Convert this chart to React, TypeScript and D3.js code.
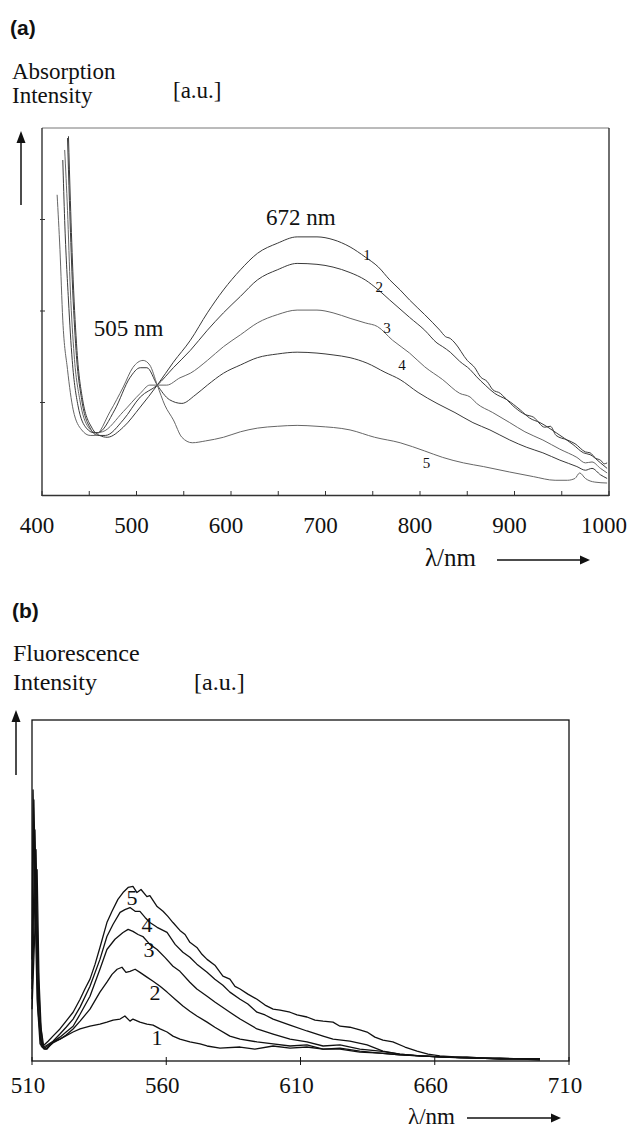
import React, { useEffect, useRef } from 'react';
import * as d3 from 'd3';

// ---- (a) absorption spectra, [nm, a.u.] ----
const absCurve1 = [[428,3.91],[430,3.21],[433,2.34],[437,1.57],[443,1.03],[453,0.72],[461,0.64],[469,0.62],[486,0.73],[504,0.95],[522,1.19],[539,1.44],[557,1.68],[575,1.98],[592,2.23],[610,2.45],[628,2.63],[649,2.74],[670,2.81],[691,2.81],[708,2.78],[726,2.70],[742,2.59],[756,2.48],[768,2.34],[779,2.23],[789,2.12],[805,1.96],[821,1.79],[827,1.72],[832,1.70],[837,1.65],[850,1.46],[858,1.38],[864,1.28],[871,1.23],[877,1.14],[885,1.10],[890,1.05],[901,0.94],[911,0.87],[920,0.84],[932,0.73],[938,0.74],[944,0.64],[956,0.59],[964,0.55],[975,0.46],[980,0.45],[986,0.39],[991,0.37],[995,0.33],[998,0.34]];
const absCurve2 = [[427,3.89],[429,3.21],[432,2.34],[436,1.57],[442,1.03],[451,0.72],[459,0.64],[467,0.64],[486,0.81],[504,1.06],[522,1.19],[539,1.38],[557,1.57],[575,1.79],[592,1.98],[610,2.16],[628,2.34],[649,2.45],[670,2.52],[691,2.51],[708,2.48],[726,2.42],[742,2.34],[756,2.23],[768,2.12],[789,1.93],[805,1.79],[818,1.65],[824,1.61],[832,1.55],[842,1.45],[853,1.36],[860,1.28],[869,1.19],[879,1.10],[892,1.03],[906,0.92],[916,0.83],[927,0.78],[944,0.67],[962,0.54],[973,0.45],[980,0.43],[991,0.34],[998,0.28]];
const absCurve3 = [[424,3.76],[427,3.10],[430,2.23],[434,1.52],[440,1.03],[449,0.73],[457,0.67],[464,0.68],[486,0.90],[504,1.10],[514,1.19],[522,1.19],[532,1.19],[546,1.27],[557,1.32],[575,1.46],[592,1.61],[610,1.74],[628,1.87],[649,1.96],[670,2.01],[691,2.01],[708,1.98],[726,1.92],[742,1.87],[755,1.83],[771,1.68],[789,1.54],[805,1.39],[824,1.25],[842,1.10],[853,1.06],[860,0.99],[877,0.89],[895,0.78],[911,0.68],[930,0.59],[948,0.49],[966,0.40],[975,0.34],[982,0.35],[991,0.28],[998,0.23]];
const absCurve4 = [[422,3.65],[424,2.99],[428,2.12],[432,1.46],[438,0.97],[447,0.72],[455,0.67],[459,0.67],[477,0.92],[493,1.27],[504,1.38],[511,1.38],[522,1.19],[535,1.03],[548,0.99],[562,1.08],[575,1.19],[592,1.32],[610,1.41],[628,1.49],[649,1.53],[670,1.55],[691,1.54],[708,1.52],[726,1.49],[744,1.43],[763,1.33],[779,1.25],[798,1.11],[818,0.99],[837,0.89],[856,0.78],[874,0.70],[895,0.59],[913,0.51],[930,0.45],[948,0.37],[966,0.30],[975,0.26],[982,0.28],[991,0.21],[998,0.17]];
const absCurve5 = [[416,3.27],[419,2.67],[422,1.90],[427,1.36],[433,0.92],[442,0.70],[451,0.64],[456,0.64],[472,0.90],[486,1.17],[496,1.38],[507,1.46],[514,1.41],[522,1.19],[530,0.97],[539,0.81],[548,0.62],[559,0.56],[573,0.58],[592,0.62],[610,0.68],[628,0.72],[649,0.74],[670,0.75],[691,0.74],[726,0.70],[752,0.62],[779,0.56],[805,0.47],[824,0.40],[846,0.34],[867,0.30],[895,0.24],[920,0.19],[943,0.15],[956,0.15],[964,0.17],[969,0.23],[975,0.17],[985,0.13],[998,0.12]];
const absCurves = [absCurve1, absCurve2, absCurve3, absCurve4, absCurve5];
const absLabels = ['1', '2', '3', '4', '5'];
const absLabelNm = [744, 757, 765, 781, 807];
const absLabelVal = [2.61, 2.26, 1.81, 1.41, 0.34];
const absTicks = [400, 450, 500, 550, 600, 650, 700, 750, 800, 850, 900, 950, 1000];
const absTickLabels = [400, 500, 600, 700, 800, 900, 1000];
const absYTicks = [1, 2, 3];
const absPeakText = ['505 nm', '672 nm'];
const absPeakNm = [491.5, 674];
const absPeakVal = [1.73, 2.94];

// ---- (b) fluorescence spectra, [nm, a.u.] ----
const flCurve1 = [[510.0,15.2],[511.9,56.1],[512.6,24.0],[513.4,9.4],[514.5,3.5],[515.6,3.5],[517.8,5.6],[520.4,6.4],[525.3,8.5],[527.9,9.4],[531.6,10.2],[535.3,10.8],[537.9,11.4],[540.2,12.0],[542.8,12.3],[544.6,13.2],[546.5,11.7],[547.6,12.3],[550.2,11.4],[552.8,10.8],[555.1,10.5],[557.7,9.4],[560.3,8.5],[562.5,7.3],[565.1,6.4],[568.8,5.6],[572.6,5.0],[575.2,4.4],[580.0,3.8],[587.5,4.1],[593.0,3.5],[599.8,4.4],[606.1,3.8],[612.4,4.1],[618.4,3.5],[624.7,3.5],[632.1,2.6],[639.6,2.3],[647.0,1.8],[654.5,1.5],[661.9,1.2],[673.1,0.9],[684.3,0.6],[699.2,0.6]];
const flCurve2 = [[510.0,18.1],[511.5,62.0],[512.2,29.8],[513.0,12.3],[514.1,3.8],[515.2,3.5],[517.8,5.3],[520.4,6.4],[522.7,7.6],[525.3,9.4],[527.9,11.7],[531.6,15.2],[535.3,20.2],[537.9,23.1],[539.8,25.4],[541.7,26.9],[543.5,27.5],[545.0,26.0],[546.5,26.3],[548.4,26.9],[550.2,26.0],[552.8,24.6],[555.1,23.4],[557.7,21.9],[560.3,20.2],[563.3,18.1],[566.2,16.1],[568.8,14.6],[571.4,13.2],[575.2,11.4],[578.1,9.9],[583.7,7.3],[587.5,6.4],[593.8,5.6],[599.8,5.0],[606.1,4.4],[612.4,4.7],[618.4,3.5],[624.7,3.8],[632.1,2.9],[639.6,2.3],[647.0,1.8],[654.5,1.5],[661.9,1.2],[673.1,0.9],[684.3,0.6],[699.2,0.6]];
const flCurve3 = [[510.0,21.1],[511.1,67.8],[511.9,35.7],[512.6,13.7],[513.7,4.1],[514.8,3.8],[517.8,5.6],[520.4,7.0],[522.7,8.5],[525.3,10.2],[527.9,13.7],[531.6,19.0],[535.3,26.9],[537.9,32.7],[540.9,35.7],[543.9,37.7],[545.8,38.6],[547.6,38.0],[549.5,37.1],[551.3,36.5],[553.9,34.2],[556.6,32.7],[559.5,30.4],[562.5,27.8],[565.1,26.3],[568.8,23.1],[571.4,21.1],[575.2,19.0],[578.1,17.3],[583.7,14.3],[587.5,12.3],[593.8,9.4],[599.8,7.9],[606.1,6.4],[612.4,5.6],[618.4,4.4],[624.7,4.7],[632.1,3.5],[639.6,2.9],[647.0,2.0],[654.5,1.5],[661.9,1.2],[673.1,0.9],[684.3,0.6],[699.2,0.6]];
const flCurve4 = [[510.0,24.0],[510.7,76.6],[511.5,41.5],[512.2,15.2],[513.4,4.4],[514.5,4.1],[517.8,5.8],[520.4,7.9],[522.7,9.9],[525.3,12.3],[527.9,15.8],[531.6,21.9],[535.3,29.8],[537.9,36.5],[540.2,40.1],[542.8,43.6],[544.6,44.4],[546.5,45.0],[548.4,43.9],[550.2,43.9],[552.1,42.1],[553.9,40.6],[556.6,39.2],[560.3,37.7],[563.3,34.2],[566.2,31.9],[568.8,30.4],[571.4,28.4],[575.2,26.0],[578.1,24.0],[581.1,22.2],[583.7,20.2],[587.5,18.1],[590.4,16.7],[593.8,14.3],[596.8,13.5],[599.8,12.3],[606.1,10.5],[612.4,8.8],[618.4,7.3],[622.1,6.4],[628.4,5.8],[634.8,4.7],[640.7,2.9],[647.0,2.0],[654.5,1.5],[661.9,1.2],[669.4,0.9],[676.8,0.9],[684.3,0.6],[691.7,0.6],[699.2,0.3]];
const flCurve5 = [[510.0,29.8],[510.4,79.5],[511.1,47.4],[511.9,18.1],[513.0,5.0],[514.1,4.4],[516.0,5.8],[517.8,7.3],[520.4,9.4],[522.7,11.7],[525.3,14.3],[527.9,18.1],[529.7,21.1],[531.6,24.0],[533.5,28.4],[535.3,33.3],[537.9,40.6],[539.8,43.9],[542.0,47.4],[543.9,49.4],[545.8,50.9],[547.6,51.2],[549.1,49.4],[550.6,50.3],[552.8,48.2],[553.9,48.5],[556.6,45.3],[558.8,43.9],[560.6,42.4],[562.5,40.6],[565.1,38.3],[567.0,37.1],[568.8,34.8],[571.4,33.3],[573.3,31.3],[575.2,29.8],[578.1,28.1],[581.1,24.9],[583.7,24.0],[585.6,21.9],[587.5,21.1],[590.4,19.6],[593.8,18.1],[596.8,16.4],[599.8,15.2],[602.4,14.9],[606.1,14.3],[608.7,13.5],[612.4,12.9],[615.4,12.0],[618.4,11.7],[622.1,11.4],[624.7,10.2],[628.4,9.9],[632.1,9.1],[634.8,8.5],[637.7,7.0],[640.7,6.1],[644.4,5.6],[648.9,4.1],[653.4,2.9],[657.5,2.0],[661.9,1.5],[667.5,1.2],[672.0,1.2],[676.8,0.9],[684.3,0.9],[691.7,0.6],[699.2,0.6]];
const flCurves = [flCurve1, flCurve2, flCurve3, flCurve4, flCurve5];
const flLabels = ['1', '2', '3', '4', '5'];
const flLabelNm = [556.6, 555.8, 553.6, 552.8, 547.2];
const flLabelVal = [7.0, 20.2, 32.7, 40.1, 48.2];
const flTicks = [510, 560, 610, 660, 710];

const SERIF = '"Liberation Serif", "Times New Roman", serif';
const SANS = '"Liberation Sans", Arial, sans-serif';

const App = () => {
  const svgRef = useRef(null);

  useEffect(() => {
    const svg = d3.select(svgRef.current);
    svg.selectAll('*').remove();

    const arrowRight = (x1, x2, y) => {
      svg.append('line').attr('x1', x1).attr('x2', x2 - 8).attr('y1', y).attr('y2', y)
        .attr('stroke', '#111').attr('stroke-width', 1.3);
      svg.append('path').attr('d', `M${x2 - 10},${y - 4.5}L${x2},${y}L${x2 - 10},${y + 4.5}Z`).attr('fill', '#111');
    };
    const arrowUp = (x, y1, y2) => {
      svg.append('line').attr('x1', x).attr('x2', x).attr('y1', y1).attr('y2', y2 + 9)
        .attr('stroke', '#111').attr('stroke-width', 1.5);
      svg.append('path').attr('d', `M${x - 4.5},${y2 + 12}L${x},${y2}L${x + 4.5},${y2 + 12}Z`).attr('fill', '#111');
    };
    const text = (t, x, y, size, opts = {}) =>
      svg.append('text').attr('x', x).attr('y', y).attr('font-size', size)
        .attr('font-family', opts.family || SERIF).attr('font-weight', opts.weight || 'normal')
        .attr('text-anchor', opts.anchor || 'start').attr('fill', '#111').text(t);

    // ===== panel (a) =====
    const xA = d3.scaleLinear().domain([400, 1000]).range([42, 609]);
    const yA = d3.scaleLinear().domain([0, 4]).range([494, 128]);

    text('(a)', 10, 35, 21, { family: SANS, weight: 'bold' });
    text('Absorption', 12, 79, 23);
    text('Intensity', 12, 103, 23);
    text('[a.u.]', 173, 98, 23);
    arrowUp(21, 205, 131);

    const gA = svg.append('g');
    gA.append('line').attr('x1', 42).attr('x2', 609).attr('y1', 128).attr('y2', 128).attr('stroke', '#777').attr('stroke-width', 1);
    gA.append('line').attr('x1', 42).attr('x2', 42).attr('y1', 128).attr('y2', 496).attr('stroke', '#222').attr('stroke-width', 1.3);
    gA.append('line').attr('x1', 609).attr('x2', 609).attr('y1', 128).attr('y2', 496).attr('stroke', '#222').attr('stroke-width', 1.3);
    gA.append('line').attr('x1', 42).attr('x2', 609).attr('y1', 495.5).attr('y2', 495.5).attr('stroke', '#333').attr('stroke-width', 1.3);

    gA.selectAll('.tickA').data(absTicks).enter().append('line')
      .attr('x1', d => xA(d)).attr('x2', d => xA(d)).attr('y1', 496).attr('y2', 491)
      .attr('stroke', '#333').attr('stroke-width', 1);
    gA.selectAll('.ytickA').data(absYTicks).enter().append('line')
      .attr('x1', 40).attr('x2', 45).attr('y1', d => yA(d)).attr('y2', d => yA(d))
      .attr('stroke', '#333').attr('stroke-width', 1);
    gA.selectAll('.tlabA').data(absTickLabels).enter().append('text')
      .attr('x', d => xA(d) - 5).attr('y', 533).attr('text-anchor', 'middle')
      .attr('font-family', SERIF).attr('font-size', 23).attr('fill', '#111').text(d => d);

    const lineA = d3.line().x(d => xA(d[0])).y(d => yA(d[1])).curve(d3.curveMonotoneX);
    gA.selectAll('.curveA').data(absCurves).enter().append('path')
      .attr('d', d => lineA(d)).attr('fill', 'none')
      .attr('stroke', (d, i) => (i === 2 || i === 4 ? '#666' : '#3a3a3a')).attr('stroke-width', 1);

    absLabels.forEach((l, i) => {
      text(l, xA(absLabelNm[i]), yA(absLabelVal[i]) + 5, 15, { anchor: 'middle' });
    });
    absPeakText.forEach((t, i) => {
      text(t, xA(absPeakNm[i]), yA(absPeakVal[i]), 23, { anchor: 'middle' });
    });

    text('\u03bb/nm', 425, 566, 25);
    arrowRight(497, 590, 560);

    // ===== panel (b) =====
    const xB = d3.scaleLinear().domain([510, 710]).range([32, 569]);
    const yB = d3.scaleLinear().domain([0, 100]).range([1061, 720]);

    text('(b)', 12, 618, 21, { family: SANS, weight: 'bold' });
    text('Fluorescence', 13, 661, 24);
    text('Intensity', 13, 690, 24);
    text('[a.u.]', 194, 690, 24);
    arrowUp(16, 775, 710);

    const gB = svg.append('g');
    gB.append('rect').attr('x', 32).attr('y', 720).attr('width', 537).attr('height', 341)
      .attr('fill', 'none').attr('stroke', '#111').attr('stroke-width', 1.3);
    gB.selectAll('.tickB').data(flTicks).enter().append('line')
      .attr('x1', d => xB(d)).attr('x2', d => xB(d)).attr('y1', 1057).attr('y2', 1065)
      .attr('stroke', '#111').attr('stroke-width', 1);
    gB.selectAll('.tlabB').data(flTicks).enter().append('text')
      .attr('x', d => xB(d) - 4).attr('y', 1093).attr('text-anchor', 'middle')
      .attr('font-family', SERIF).attr('font-size', 23).attr('fill', '#111').text(d => d);

    const lineB = d3.line().x(d => xB(d[0])).y(d => yB(d[1]));
    gB.selectAll('.curveB').data(flCurves).enter().append('path')
      .attr('d', d => lineB(d)).attr('fill', 'none')
      .attr('stroke', '#111').attr('stroke-width', 1.3).attr('stroke-linejoin', 'round');

    flLabels.forEach((l, i) => {
      text(l, xB(flLabelNm[i]), yB(flLabelVal[i]) + 8, 22, { anchor: 'middle' });
    });

    text('\u03bb/nm', 408, 1124, 23);
    arrowRight(467, 561, 1118);
  }, []);

  return (
    <div style={{ position: 'absolute', left: 0, top: 0, width: 629, height: 1131, background: '#fff' }}>
      <svg ref={svgRef} width={629} height={1131} style={{ display: 'block' }}></svg>
    </div>
  );
};

export default App;
